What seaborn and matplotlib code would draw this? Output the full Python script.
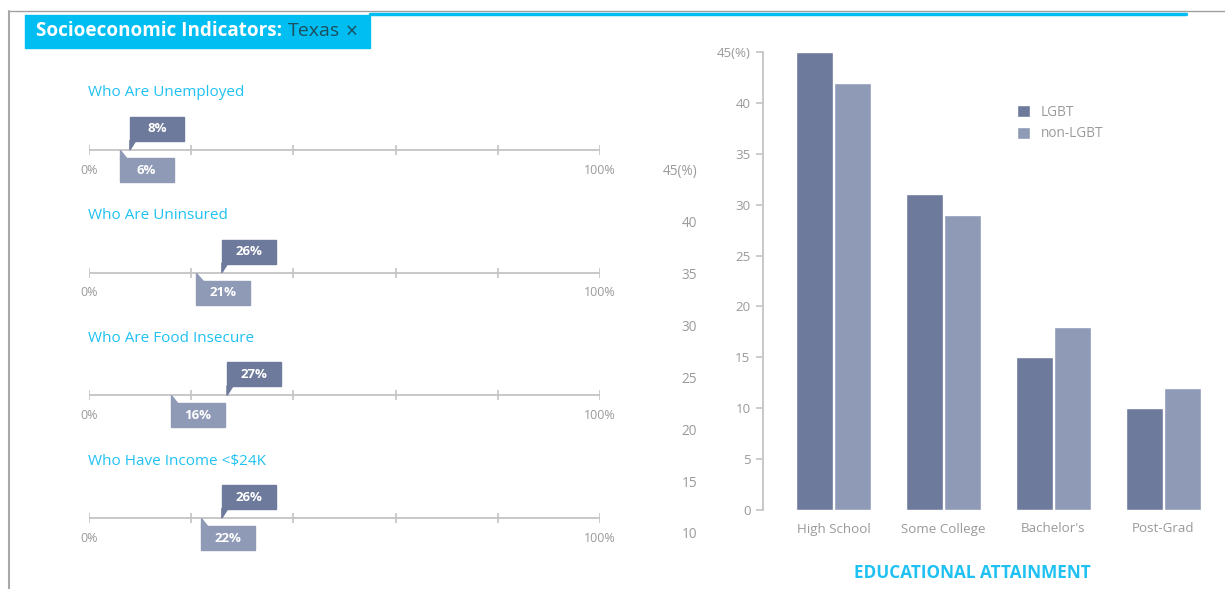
# Socioeconomic indicators (Texas) + educational attainment bars

import pandas as pd
import seaborn as sns
import matplotlib.pyplot as plt
from matplotlib.patches import Rectangle, Polygon

sns.set_theme(style="white")
plt.rcParams['font.family'] = ['Open Sans', 'DejaVu Sans']

# ---- data ----
indicators = ['Who Are Unemployed', 'Who Are Uninsured', 'Who Are Food Insecure', 'Who Have Income <$24K']
lgbt_ind = [8, 26, 27, 26]
non_lgbt_ind = [6, 21, 16, 22]

edu_levels = ["High School", "Some College", "Bachelor's", "Post-Grad"]
lgbt_edu = [45, 31, 15, 10]
non_lgbt_edu = [42, 29, 18, 12]
groups = ['LGBT', 'non-LGBT']

edu_ticks = [0, 5, 10, 15, 20, 25, 30, 35, 40, 45]
ghost_ticks = [10, 15, 20, 25, 30, 35, 40, 45]

CYAN = '#1fc1f3'
DARK = '#6e7a9b'
LIGHT = '#8f9ab6'
GRAY_TXT = '#9a9a9a'
GRAY_LN = '#c4c4c4'

W, H = 1225, 589
fig = plt.figure(figsize=(W / 100, H / 100), dpi=100)

# ---- frame + header ----
bg = fig.add_axes([0, 0, 1, 1])
bg.set_xlim(0, W)
bg.set_ylim(H, 0)
bg.axis('off')
bg.plot([9, W], [11, 11], color='#a0a0a0', lw=1)
bg.plot([9, 9], [11, H], color='#a8a8a8', lw=1.5)
bg.plot([370, 1186], [13.5, 13.5], color='#00bef2', lw=2.5)
bg.add_patch(Rectangle((25, 15), 345, 33, color='#00bef2'))
t1 = bg.text(36, 31.5, 'Socioeconomic Indicators:', color='white', fontsize=13.6,
             fontweight='bold', va='center')
t2 = bg.annotate('Texas', xy=(1, 0.5), xycoords=t1, xytext=(4, 0),
                 textcoords='offset points', color='#1d4e5c', fontsize=14, va='center')
bg.annotate('\u00d7', xy=(1, 0.5), xycoords=t2, xytext=(4, -1),
            textcoords='offset points', color='#1d4e5c', fontsize=15, va='center')

# ---- left panel: indicator scales ----
ax_l = fig.add_axes([89 / W, 0, 511 / W, 1])
ax_l.set_xlim(0, 100)
ax_l.set_ylim(H, 0)
ax_l.axis('off')

px = 100 / 511  # one pixel in percent units
box_w = 54 * px
for i, name in enumerate(indicators):
    y = 150 + i * 122.7
    ax_l.text(-0.2, y - 57, name, color=CYAN, fontsize=11, va='center', ha='left')
    ax_l.plot([0, 100], [y, y], color=GRAY_LN, lw=1.3, zorder=1)
    ax_l.vlines(range(0, 101, 20), y - 5, y + 5, color=GRAY_LN, lw=1.2, zorder=1)
    ax_l.text(0, y + 20, '0%', color=GRAY_TXT, fontsize=9, ha='center', va='center')
    ax_l.text(100, y + 20, '100%', color=GRAY_TXT, fontsize=9, ha='center', va='center')

    v = lgbt_ind[i]
    ax_l.add_patch(Rectangle((v, y - 33), box_w, 24, color=DARK, zorder=3))
    ax_l.add_patch(Polygon([(v, y - 9.5), (v + 6 * px, y - 9.5), (v, y)], color=DARK, zorder=3))
    ax_l.text(v + box_w / 2, y - 21, f'{v}%', color='white', fontsize=9.5,
              fontweight='bold', ha='center', va='center', zorder=4)

    v = non_lgbt_ind[i]
    ax_l.add_patch(Rectangle((v, y + 8), box_w, 24, color=LIGHT, zorder=3))
    ax_l.add_patch(Polygon([(v, y), (v, y + 8.5), (v + 7 * px, y + 8.5)], color=LIGHT, zorder=3))
    ax_l.text(v + box_w / 2, y + 20, f'{v}%', color='white', fontsize=9.5,
              fontweight='bold', ha='center', va='center', zorder=4)

# ---- stray axis labels in the middle ----
ax_g = fig.add_axes([697 / W, (H - 533) / H, 0.001, (533 - 170) / H])
ax_g.set_ylim(10, 45)
ax_g.set_yticks(ghost_ticks)
ax_g.set_yticklabels([f'{t}(%)' if t == 45 else str(t) for t in ghost_ticks],
                     color=GRAY_TXT, fontsize=9.8)
ax_g.set_xticks([])
ax_g.tick_params(axis='y', length=0, pad=0)
for s in ax_g.spines.values():
    s.set_visible(False)
ax_g.patch.set_visible(False)

# ---- right panel: educational attainment ----
edu = pd.DataFrame({
    'level': edu_levels * 2,
    'pct': lgbt_edu + non_lgbt_edu,
    'group': [groups[0]] * len(edu_levels) + [groups[1]] * len(edu_levels),
})

ax_r = fig.add_axes([763 / W, (H - 510) / H, (1215 - 763) / W, (510 - 52) / H])
sns.barplot(data=edu, x='level', y='pct', hue='group', palette=[DARK, LIGHT],
            width=0.69, gap=0.03, saturation=1, ax=ax_r)
ax_r.set_xlim(-0.64, 3.47)
ax_r.set_ylim(0, 45)
ax_r.set_yticks(edu_ticks)
ax_r.set_yticklabels([f'{t}(%)' if t == 45 else str(t) for t in edu_ticks])
ax_r.set_xlabel('')
ax_r.set_ylabel('')
sns.despine(ax=ax_r, bottom=True)
ax_r.spines['left'].set_color(GRAY_LN)
ax_r.spines['left'].set_linewidth(1.3)
ax_r.tick_params(axis='y', left=True, length=5, width=1.2, color=GRAY_LN,
                 labelcolor=GRAY_TXT, labelsize=9.6, pad=4)
ax_r.tick_params(axis='x', length=0, labelcolor=GRAY_TXT, labelsize=9.6, pad=9)
ax_r.patch.set_visible(False)

handles, labels = ax_r.get_legend_handles_labels()
ax_r.legend(handles, labels, loc='upper left', bbox_to_anchor=(0.562, 0.885),
            frameon=False, fontsize=9.8, labelcolor=GRAY_TXT, handlelength=0.95,
            handleheight=0.95, handletextpad=0.8, labelspacing=0.5,
            borderpad=0, borderaxespad=0)

bg.text(972, 573, 'EDUCATIONAL ATTAINMENT', color=CYAN, fontsize=12.3,
        fontweight='bold', ha='center', va='center')

fig.savefig('out.png', dpi=100)
